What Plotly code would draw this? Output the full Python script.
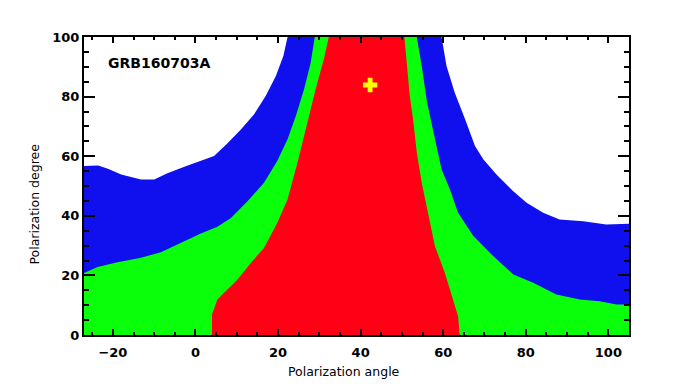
import plotly.graph_objects as go

# contour boundaries (polarization angle, polarization degree)
# outer (blue) region
blue_left_x = [-27.0, -23.6, -21.2, -18.0, -13.2, -10.0, -6.8, -2.7, 1.3, 4.5, 7.7, 11.0, 14.2, 17.0, 19.5, 21.3, 22.3]
blue_left_y = [56.7, 56.9, 55.8, 53.9, 52.2, 52.2, 54.3, 56.5, 58.4, 60.1, 64.3, 69.0, 74.1, 80.2, 87.0, 93.7, 100.0]
blue_right_x = [59.6, 60.8, 62.8, 65.3, 67.7, 69.7, 72.9, 76.9, 80.2, 84.2, 88.2, 93.9, 99.5, 105.0]
blue_right_y = [100.0, 90.3, 81.3, 72.4, 63.4, 59.0, 53.9, 48.3, 44.4, 41.0, 38.8, 38.2, 37.1, 37.3]

# middle (green) region
green_left_x = [-27.0, -23.7, -18.9, -13.2, -8.4, -2.7, 1.3, 5.3, 8.6, 12.6, 16.6, 19.8, 22.3, 24.3, 26.3, 27.9, 28.9]
green_left_y = [20.8, 22.8, 24.4, 25.9, 27.8, 31.5, 34.1, 36.3, 39.3, 44.9, 51.1, 58.4, 65.7, 73.5, 82.5, 91.4, 100.0]
green_right_x = [53.6, 54.8, 56.1, 58.0, 59.6, 61.6, 63.6, 67.3, 72.1, 77.0, 81.8, 87.4, 93.1, 97.9, 102.0, 105.0]
green_right_y = [100.0, 90.3, 78.0, 65.7, 55.6, 48.9, 41.0, 33.2, 26.5, 20.3, 17.5, 13.6, 11.9, 11.3, 10.2, 10.2]

# inner (red) region
red_left_x = [4.0, 4.0, 5.3, 6.5, 10.2, 13.4, 16.6, 19.8, 22.3, 24.7, 27.1, 29.1, 31.1, 32.3]
red_left_y = [0.0, 6.9, 11.9, 13.6, 18.6, 24.2, 29.2, 37.6, 45.5, 57.8, 71.3, 82.5, 92.6, 100.0]
red_right_x = [50.6, 51.1, 51.9, 52.7, 53.6, 54.8, 56.4, 58.0, 60.4, 62.4, 63.6, 64.0]
red_right_y = [100.0, 91.4, 80.2, 72.4, 61.2, 51.1, 39.9, 29.8, 20.8, 11.9, 6.3, 0.0]

best_x = [42.3]
best_y = [83.9]

X_RANGE = [-27, 105]
Y_RANGE = [0, 100]


def region(lx, ly, rx, ry):
    xs = list(lx) + list(rx)
    ys = list(ly) + list(ry)
    # close along the bottom of the frame
    if ys[0] > 0:
        xs = [lx[0]] + xs
        ys = [0] + ys
    if ys[-1] > 0:
        xs = xs + [rx[-1]]
        ys = ys + [0]
    return xs, ys


fig = go.Figure()
for (lx, ly, rx, ry), col in [
    ((blue_left_x, blue_left_y, blue_right_x, blue_right_y), "#1010EE"),
    ((green_left_x, green_left_y, green_right_x, green_right_y), "#0AFF0A"),
    ((red_left_x, red_left_y, red_right_x, red_right_y), "#FF0014"),
]:
    xs, ys = region(lx, ly, rx, ry)
    fig.add_trace(go.Scatter(x=xs, y=ys, mode="lines", fill="toself",
                             fillcolor=col, line=dict(width=0, color=col),
                             hoverinfo="skip"))

fig.add_trace(go.Scatter(x=best_x, y=best_y, mode="markers",
                         marker=dict(symbol="cross", size=12, color="#FFFF00",
                                     line=dict(width=0))))

fig.add_annotation(x=-21.7, y=91.4, xref="x", yref="y", text="<b>GRB160703A</b>",
                   showarrow=False, xanchor="left", yanchor="middle",
                   font=dict(size=14, color="black"))
fig.add_annotation(x=0.4765, y=-0.124, xref="paper", yref="paper",
                   text="Polarization angle", showarrow=False,
                   xanchor="center", yanchor="middle",
                   font=dict(size=12.5, color="black"))
fig.add_annotation(x=-0.0905, y=0.44, xref="paper", yref="paper",
                   text="Polarization degree", showarrow=False, textangle=-90,
                   xanchor="center", yanchor="middle",
                   font=dict(size=12.5, color="black"))

axis_common = dict(showgrid=False, zeroline=False, showline=True, linecolor="black",
                   linewidth=2, mirror="ticks", ticks="inside", tickwidth=2,
                   tickcolor="black",
                   tickfont=dict(size=13, color="black", weight="bold"))

fig.update_xaxes(range=X_RANGE, dtick=20, ticklen=6, ticklabelstandoff=4,
                 minor=dict(dtick=5, ticks="inside", ticklen=3, tickwidth=2,
                            tickcolor="black"),
                 **axis_common)
fig.update_yaxes(range=Y_RANGE, dtick=20, ticklen=11,
                 minor=dict(dtick=5, ticks="inside", ticklen=5, tickwidth=2,
                            tickcolor="black"),
                 **axis_common)

# page body adds an 8px offset, so margins are shifted to compensate
fig.update_layout(width=680, height=384, showlegend=False,
                  margin=dict(l=76, r=59, t=29, b=57),
                  paper_bgcolor="white", plot_bgcolor="white",
                  font=dict(family="DejaVu Sans", color="black"))

fig.write_html("out.html")
